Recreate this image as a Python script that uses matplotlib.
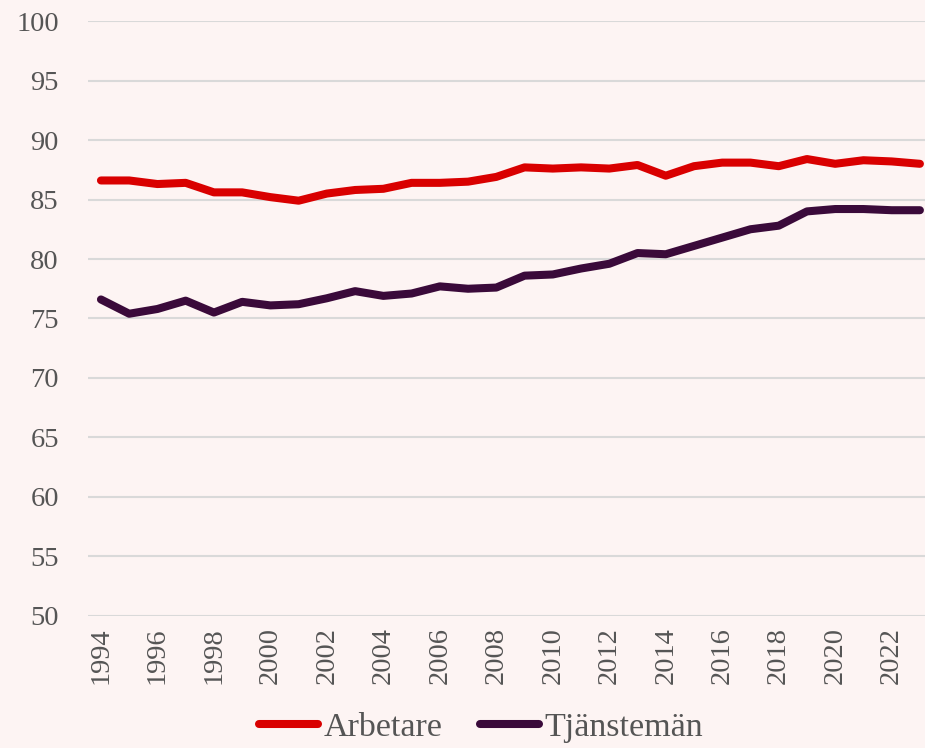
import numpy as np
import matplotlib.pyplot as plt

years = list(range(1994, 2024))
arbetare = [86.6, 86.6, 86.3, 86.4, 85.6, 85.6, 85.2, 84.9, 85.5, 85.8,
            85.9, 86.4, 86.4, 86.5, 86.9, 87.7, 87.6, 87.7, 87.6, 87.9,
            87.0, 87.8, 88.1, 88.1, 87.8, 88.4, 88.0, 88.3, 88.2, 88.0]
tjansteman = [76.6, 75.4, 75.8, 76.5, 75.5, 76.4, 76.1, 76.2, 76.7, 77.3,
              76.9, 77.1, 77.7, 77.5, 77.6, 78.6, 78.7, 79.2, 79.6, 80.5,
              80.4, 81.1, 81.8, 82.5, 82.8, 84.0, 84.2, 84.2, 84.1, 84.1]
xticks = list(range(1994, 2023, 2))
yticks = list(range(50, 101, 5))

bg = '#fdf4f3'
grey = '#555555'
plt.rcParams['font.family'] = ['Liberation Serif', 'DejaVu Serif']

fig = plt.figure(figsize=(9.25, 7.48), dpi=100, facecolor=bg)
ax = fig.add_axes([0.0951, 0.1765, 0.9049, 0.7954], facecolor=bg)

ax.plot(years, arbetare, color='#d90000', lw=5.8, solid_capstyle='round',
        solid_joinstyle='round', label='Arbetare')
ax.plot(years, tjansteman, color='#3a0a3a', lw=5.8, solid_capstyle='round',
        solid_joinstyle='round', label='Tjänstemän')

ax.set_xlim(1993.54, 2023.18)
ax.set_ylim(50, 100)
ax.set_yticks(yticks)
ax.set_xticks(xticks)
ax.set_xticklabels([str(x) for x in xticks], rotation=90)
ax.grid(axis='y', color='#d9d9d9', lw=1.5)
ax.set_axisbelow(True)
for s in ax.spines.values():
    s.set_visible(False)
ax.tick_params(axis='both', length=0, labelsize=20.5, colors=grey)
ax.tick_params(axis='y', pad=21)
ax.tick_params(axis='x', pad=8)

leg = fig.legend(loc='lower center', bbox_to_anchor=(0.52, -0.034), ncol=2,
                 frameon=False, fontsize=24.5, handlelength=1.75,
                 handletextpad=0.15, columnspacing=1.1)
for t in leg.get_texts():
    t.set_color(grey)

fig.savefig('out.png', dpi=100, facecolor=bg)
